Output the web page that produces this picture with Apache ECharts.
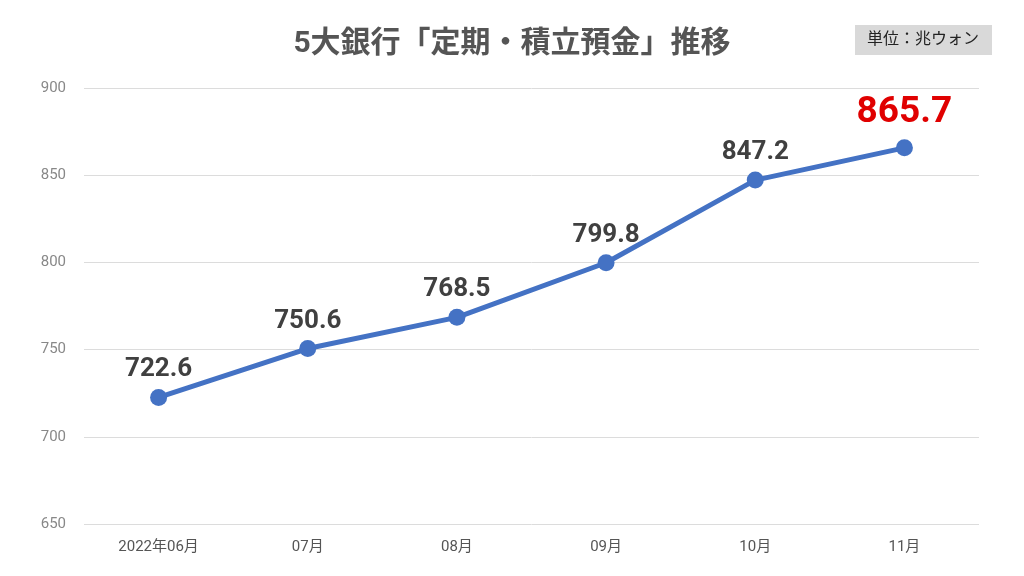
<!DOCTYPE html>
<html><head><meta charset="utf-8">
<script src="https://cdn.jsdelivr.net/npm/echarts@6/dist/echarts.min.js"></script>
<style>html,body{margin:0;padding:0;background:#fff}#c{width:1024px;height:576px}</style>
</head><body><div id="c"></div>
<script>
const titleText = '5大銀行「定期・積立預金」推移';
const unitText = '単位：兆ウォン';
const categories = ['2022年06月', '07月', '08月', '09月', '10月', '11月'];
const values = [722.6, 750.6, 768.5, 799.8, 847.2, 865.7];
const yMin = 650, yMax = 900, yStep = 50;

const chart = echarts.init(document.getElementById('c'));
const FONT = 'Roboto, "Noto Sans CJK JP", sans-serif';
const data = values.map((v, i) => {
  if (i === values.length - 1) {
    return { value: v, label: { color: '#e00000', fontSize: 37, distance: 8 } };
  }
  return v;
});
chart.setOption({
  animation: false,
  title: {
    text: titleText, left: 'center', top: 25,
    textStyle: { fontFamily: FONT, fontSize: 30, fontWeight: 'bold', color: '#555' }
  },
  graphic: [{
    type: 'group', left: 855, top: 25,
    children: [
      { type: 'rect', shape: { x: 0, y: 0, width: 137, height: 30 }, style: { fill: '#d9d9d9' } },
      { type: 'text', x: 68, y: 15, style: { text: unitText, fill: '#222', font: '16px ' + FONT, align: 'center', verticalAlign: 'middle' } }
    ]
  }],
  grid: { left: 84, right: 45, top: 88, bottom: 52 },
  xAxis: {
    type: 'category', data: categories, boundaryGap: true,
    axisLine: { show: false }, axisTick: { show: false },
    axisLabel: { color: '#555', fontSize: 15, fontFamily: FONT, margin: 16 }
  },
  yAxis: {
    type: 'value', min: yMin, max: yMax, interval: yStep,
    axisLine: { show: false }, axisTick: { show: false },
    axisLabel: { color: '#888', fontSize: 15, fontFamily: FONT, margin: 18 },
    splitLine: { lineStyle: { color: '#dcdcdc', width: 1 } }
  },
  series: [{
    type: 'line', data: data,
    symbol: 'circle', symbolSize: 17,
    lineStyle: { color: '#4472C4', width: 5 },
    itemStyle: { color: '#4472C4' },
    label: {
      show: true, position: 'top', distance: 6,
      color: '#404040', fontSize: 26, fontWeight: 'bold', fontFamily: FONT
    }
  }]
});
</script></body></html>
